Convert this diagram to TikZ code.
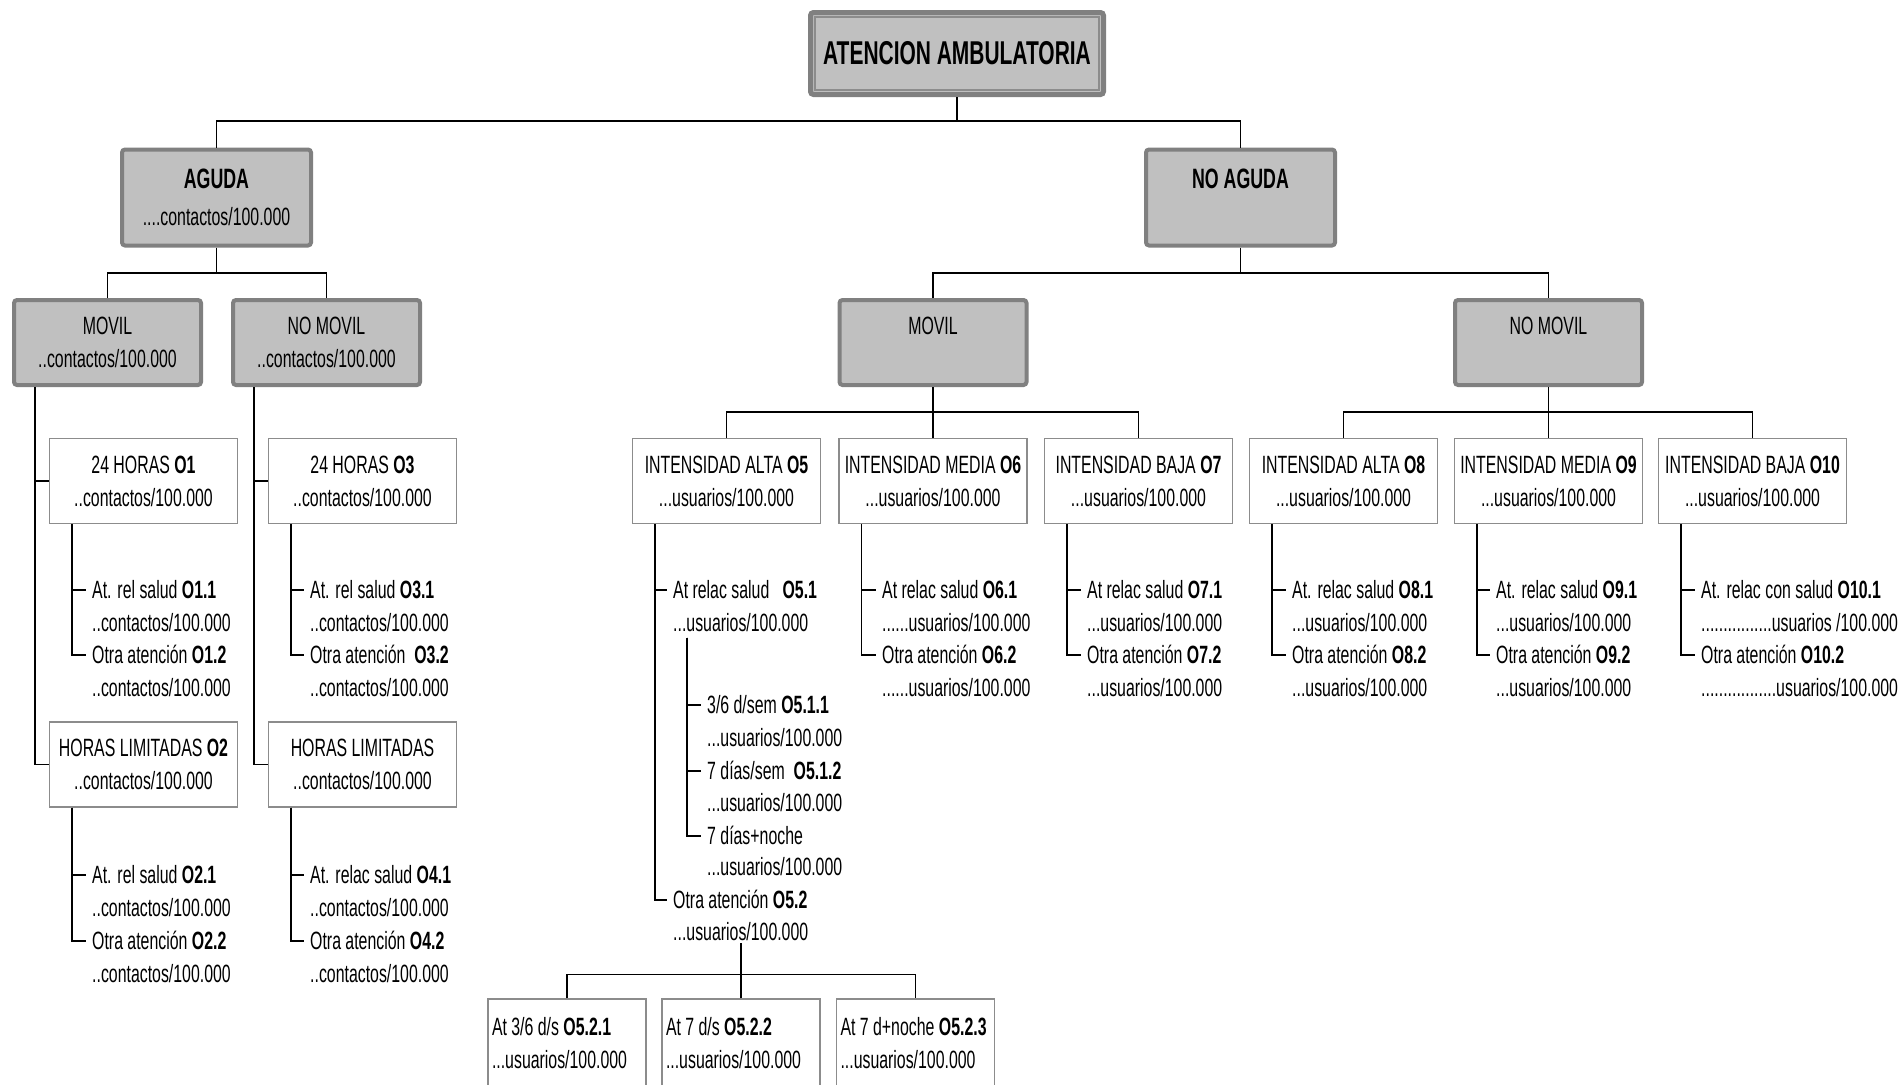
\documentclass[tikz,border=0pt]{standalone}
\usepackage{fontspec}
\setmainfont[FakeStretch=0.635]{Liberation Sans}

\definecolor{boxfill}{HTML}{C0C0C0}
\definecolor{boxline}{HTML}{808080}
\definecolor{frameline}{HTML}{8C8C8C}

\begin{document}
\begin{tikzpicture}[x=1pt, y=-1pt,
        every node/.style={font=\fontsize{25}{33}\selectfont},
        graybox/.style={draw=boxline, fill=boxfill, line width=4pt, rounded corners=3pt, align=center, inner sep=0pt, minimum width=187pt, minimum height=85pt},
        whitebox/.style={draw=frameline, fill=white, line width=1.2pt, align=center, inner sep=0pt, minimum width=188pt, minimum height=85pt},
        subbox/.style={draw=frameline, fill=white, line width=1.2pt, align=flush left, text width=150pt, inner xsep=4pt, inner ysep=0pt, minimum height=88pt},
        item/.style={anchor=west, inner xsep=6pt, inner ysep=1pt, text height=18pt, text depth=1pt},
        conn/.style={line width=1.5pt}]

        \useasboundingbox (0,0) rectangle (1903,1084);
        \clip (0,0) rectangle (1903,1084);

        % upper levels
        \node[graybox, line width=5pt, minimum width=293pt, minimum height=82pt, font=\bfseries\fontsize{33}{36}\selectfont] (top) at (957,53.5) {ATENCION AMBULATORIA};
        \draw[frameline, line width=1.2pt] ([shift={(7,7)}]top.north west) rectangle ([shift={(-7,-7)}]top.south east);

        \node[graybox, minimum width=189pt, minimum height=96pt] (aguda)   at (216.5,197.5)  {{\bfseries\fontsize{28}{33}\selectfont AGUDA}\\[4pt]....contactos/100.000};
        \node[graybox, minimum width=189pt, minimum height=96pt] (noaguda) at (1240.5,197.5) {{\bfseries\fontsize{28}{33}\selectfont NO AGUDA}\\[4pt]~};

        \node[graybox] (lmovil)   at (107.5,342.5)  {MOVIL\\..contactos/100.000};
        \node[graybox] (lnomovil) at (326.5,342.5)  {NO MOVIL\\..contactos/100.000};
        \node[graybox] (rmovil)   at (933,342.5)    {MOVIL\\~};
        \node[graybox] (rnomovil) at (1548.5,342.5) {NO MOVIL\\~};

        % boxes O1 ... O10
        \node[whitebox] (o1)  at (143.5,481)   {24 HORAS \textbf{O1}\\..contactos/100.000};
        \node[whitebox] (o3)  at (362.5,481)   {24 HORAS \textbf{O3}\\..contactos/100.000};
        \node[whitebox] (o2)  at (143.5,764.5) {HORAS LIMITADAS \textbf{O2}\\..contactos/100.000};
        \node[whitebox] (o4)  at (362.5,764.5) {HORAS LIMITADAS\\..contactos/100.000};
        \node[whitebox] (o5)  at (726.5,481)   {INTENSIDAD ALTA \textbf{O5}\\...usuarios/100.000};
        \node[whitebox] (o6)  at (933,481)     {INTENSIDAD MEDIA \textbf{O6}\\...usuarios/100.000};
        \node[whitebox] (o7)  at (1138.5,481)  {INTENSIDAD BAJA \textbf{O7}\\...usuarios/100.000};
        \node[whitebox] (o8)  at (1343.5,481)  {INTENSIDAD ALTA \textbf{O8}\\...usuarios/100.000};
        \node[whitebox] (o9)  at (1548.5,481)  {INTENSIDAD MEDIA \textbf{O9}\\...usuarios/100.000};
        \node[whitebox] (o10) at (1752.5,481)  {INTENSIDAD BAJA \textbf{O10}\\...usuarios/100.000};

        % lists, acute side
        \node[item] (o11)  at (86,590) {At. rel salud \textbf{O1.1}};
        \node[item] (o11v) at (86,623) {..contactos/100.000};
        \node[item] (o12)  at (86,655) {Otra atención \textbf{O1.2}};
        \node[item] (o12v) at (86,688) {..contactos/100.000};

        \node[item] (o31)  at (304,590) {At. rel salud \textbf{O3.1}};
        \node[item] (o31v) at (304,623) {..contactos/100.000};
        \node[item] (o32)  at (304,655) {Otra atención\ \ \textbf{O3.2}};
        \node[item] (o32v) at (304,688) {..contactos/100.000};

        \node[item] (o21)  at (86,875) {At. rel salud \textbf{O2.1}};
        \node[item] (o21v) at (86,908) {..contactos/100.000};
        \node[item] (o22)  at (86,941) {Otra atención \textbf{O2.2}};
        \node[item] (o22v) at (86,974) {..contactos/100.000};

        \node[item] (o41)  at (304,875) {At. relac salud \textbf{O4.1}};
        \node[item] (o41v) at (304,908) {..contactos/100.000};
        \node[item] (o42)  at (304,941) {Otra atención \textbf{O4.2}};
        \node[item] (o42v) at (304,974) {..contactos/100.000};

        % lists, non acute side
        \node[item] (o51)   at (667,590) {At relac salud\ \ \ \textbf{O5.1}};
        \node[item] (o51v)  at (667,623) {...usuarios/100.000};
        \node[item] (o511)  at (701,705) {3/6 d/sem \textbf{O5.1.1}};
        \node[item] (o511v) at (701,738) {...usuarios/100.000};
        \node[item] (o512)  at (701,771) {7 días/sem\ \ \textbf{O5.1.2}};
        \node[item] (o512v) at (701,803) {...usuarios/100.000};
        \node[item] (o513)  at (701,836) {7 días+noche};
        \node[item] (o513v) at (701,867) {...usuarios/100.000};
        \node[item] (o52)   at (667,900) {Otra atención \textbf{O5.2}};
        \node[item] (o52v)  at (667,932) {...usuarios/100.000};

        \node[subbox] (o521) at (567,1043)   {At 3/6 d/s \textbf{O5.2.1}\\...usuarios/100.000};
        \node[subbox] (o522) at (741,1043)   {At 7 d/s \textbf{O5.2.2}\\...usuarios/100.000};
        \node[subbox] (o523) at (915.5,1043) {At 7 d+noche \textbf{O5.2.3}\\...usuarios/100.000};

        \node[item] (o61)  at (876,590) {At relac salud \textbf{O6.1}};
        \node[item] (o61v) at (876,623) {......usuarios/100.000};
        \node[item] (o62)  at (876,655) {Otra atención \textbf{O6.2}};
        \node[item] (o62v) at (876,688) {......usuarios/100.000};

        \node[item] (o71)  at (1081,590) {At relac salud \textbf{O7.1}};
        \node[item] (o71v) at (1081,623) {...usuarios/100.000};
        \node[item] (o72)  at (1081,655) {Otra atención \textbf{O7.2}};
        \node[item] (o72v) at (1081,688) {...usuarios/100.000};

        \node[item] (o81)  at (1286,590) {At. relac salud \textbf{O8.1}};
        \node[item] (o81v) at (1286,623) {...usuarios/100.000};
        \node[item] (o82)  at (1286,655) {Otra atención \textbf{O8.2}};
        \node[item] (o82v) at (1286,688) {...usuarios/100.000};

        \node[item] (o91)  at (1490,590) {At. relac salud \textbf{O9.1}};
        \node[item] (o91v) at (1490,623) {...usuarios/100.000};
        \node[item] (o92)  at (1490,655) {Otra atención \textbf{O9.2}};
        \node[item] (o92v) at (1490,688) {...usuarios/100.000};

        \node[item] (o101)  at (1695,590) {At. relac con salud \textbf{O10.1}};
        \node[item] (o101v) at (1695,623) {................usuarios /100.000};
        \node[item] (o102)  at (1695,655) {Otra atención \textbf{O10.2}};
        \node[item] (o102v) at (1695,688) {.................usuarios/100.000};

        % tree connectors
        \draw[conn] (top.south) -- ++(0,24);
        \draw[conn] (aguda.north) -- ++(0,-26.5) -| (noaguda.north);
        \draw[conn] (aguda.south) -- ++(0,25.5);
        \draw[conn] (lmovil.north) -- ++(0,-25) -| (lnomovil.north);
        \draw[conn] (noaguda.south) -- ++(0,25.5);
        \draw[conn] (rmovil.north) -- ++(0,-25) -| (rnomovil.north);
        \draw[conn] (rmovil.south) -- (o6.north);
        \draw[conn] (o5.north) -- ++(0,-26) -| (o7.north);
        \draw[conn] (rnomovil.south) -- (o9.north);
        \draw[conn] (o8.north) -- ++(0,-26) -| (o10.north);

        \draw[conn] ([xshift=23]lmovil.south west) |- (o1.west);
        \draw[conn] ([xshift=23]lmovil.south west) |- (o2.west);
        \draw[conn] ([xshift=23]lnomovil.south west) |- (o3.west);
        \draw[conn] ([xshift=23]lnomovil.south west) |- (o4.west);

        % list connectors
        \draw[conn] ([xshift=23]o1.south west) |- (o11.west);
        \draw[conn] ([xshift=23]o1.south west) |- (o12.west);
        \draw[conn] ([xshift=23]o3.south west) |- (o31.west);
        \draw[conn] ([xshift=23]o3.south west) |- (o32.west);
        \draw[conn] ([xshift=23]o2.south west) |- (o21.west);
        \draw[conn] ([xshift=23]o2.south west) |- (o22.west);
        \draw[conn] ([xshift=23]o4.south west) |- (o41.west);
        \draw[conn] ([xshift=23]o4.south west) |- (o42.west);

        \draw[conn] ([xshift=23]o5.south west) |- (o51.west);
        \draw[conn] ([xshift=23]o5.south west) |- (o52.west);
        \draw[conn] ([shift={(20,4)}]o51v.south west) |- (o511.west);
        \draw[conn] ([shift={(20,4)}]o51v.south west) |- (o512.west);
        \draw[conn] ([shift={(20,4)}]o51v.south west) |- (o513.west);
        \draw[conn] (o522.north) -- (o522.north |- o52v.south);
        \draw[conn] (o521.north) -- ++(0,-24) -| (o523.north);

        \draw[conn] ([xshift=23]o6.south west) |- (o61.west);
        \draw[conn] ([xshift=23]o6.south west) |- (o62.west);
        \draw[conn] ([xshift=23]o7.south west) |- (o71.west);
        \draw[conn] ([xshift=23]o7.south west) |- (o72.west);
        \draw[conn] ([xshift=23]o8.south west) |- (o81.west);
        \draw[conn] ([xshift=23]o8.south west) |- (o82.west);
        \draw[conn] ([xshift=23]o9.south west) |- (o91.west);
        \draw[conn] ([xshift=23]o9.south west) |- (o92.west);
        \draw[conn] ([xshift=23]o10.south west) |- (o101.west);
        \draw[conn] ([xshift=23]o10.south west) |- (o102.west);

    \end{tikzpicture}
\end{document}
